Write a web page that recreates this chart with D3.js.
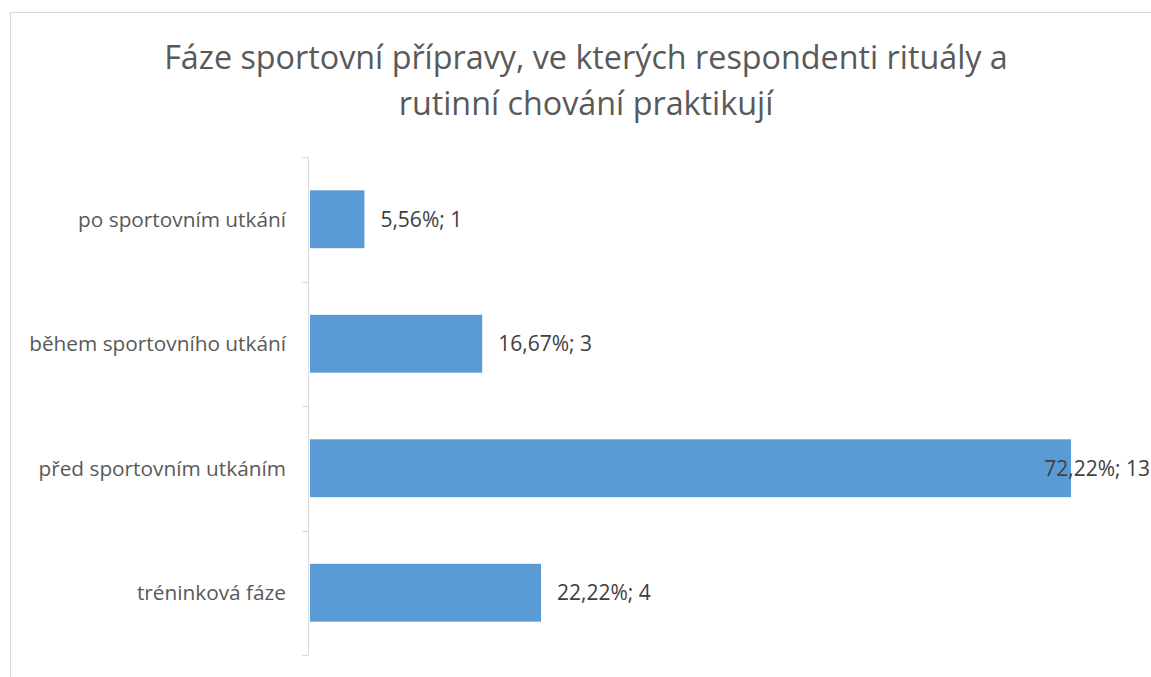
<!DOCTYPE html>
<html><head><meta charset="utf-8">
<script src="https://cdn.jsdelivr.net/npm/d3@7"></script>
<style>body{margin:0;background:#fff;}svg{display:block;}</style>
</head><body>
<svg id="c" width="1151" height="677"></svg>
<script>
const categories = ["po sportovním utkání", "během sportovního utkání", "před sportovním utkáním", "tréninková fáze"];
const percents = [5.56, 16.67, 72.22, 22.22];
const counts = [1, 3, 13, 4];
const titleLines = ["Fáze sportovní přípravy, ve kterých respondenti rituály a", "rutinní chování praktikují"];

const svg = d3.select("#c");
const font = "'Open Sans', sans-serif";

svg.append("rect").attr("x", 10.5).attr("y", 12.5).attr("width", 1200).attr("height", 700)
  .attr("fill", "#fff").attr("stroke", "#d9d9d9").attr("stroke-width", 1);

const tl = svg.append("text").attr("text-anchor", "middle").attr("fill", "#595959")
  .attr("font-family", font).attr("font-size", 32.3);
titleLines.forEach((t, i) => tl.append("tspan").attr("x", 586).attr("y", 69 + i * 46).text(t));

const axisX = 308;
const chartRight = 1150;
const x = d3.scaleLinear().domain([0, 72.22]).range([305.5, 1071]);
const y = d3.scaleBand().domain(categories).range([157, 655]).paddingInner(0.535).paddingOuter(0.2675);

// axis
const ag = svg.append("g").attr("transform", `translate(${axisX},0)`);
ag.append("line").attr("x1", 0.5).attr("x2", 0.5).attr("y1", 157).attr("y2", 655).attr("stroke", "#d9d9d9");
const bounds = d3.range(categories.length + 1).map(i => 157 + i * (655 - 157) / categories.length);
ag.selectAll(".tk").data(bounds).join("line").attr("class", "tk")
  .attr("x1", -6).attr("x2", 0.5).attr("y1", d => Math.round(d) + 0.5).attr("y2", d => Math.round(d) + 0.5)
  .attr("stroke", "#d9d9d9");

svg.append("g").selectAll("text").data(categories).join("text")
  .attr("x", 286).attr("y", d => y(d) + y.bandwidth() / 2).attr("dy", "0.35em")
  .attr("text-anchor", "end").attr("fill", "#595959").attr("font-family", font).attr("font-size", 20.8)
  .text(d => d);

const data = categories.map((c, i) => ({c, p: percents[i], n: counts[i]}));
svg.append("g").selectAll("rect").data(data).join("rect")
  .attr("x", axisX + 2).attr("y", d => y(d.c)).attr("height", y.bandwidth())
  .attr("width", d => x(d.p) - (axisX + 2)).attr("fill", "#5b9bd5");

svg.append("g").selectAll("text").data(data).join("text")
  .attr("y", d => y(d.c) + y.bandwidth() / 2).attr("dy", "0.35em")
  .attr("fill", "#404040").attr("font-family", font).attr("font-size", 21)
  .text(d => d.p.toFixed(2).replace(".", ",") + "%; " + d.n)
  .each(function(d) {
    const w = this.getComputedTextLength();
    d3.select(this).attr("x", Math.min(x(d.p) + 16, chartRight - w));
  });
</script>
</body></html>
